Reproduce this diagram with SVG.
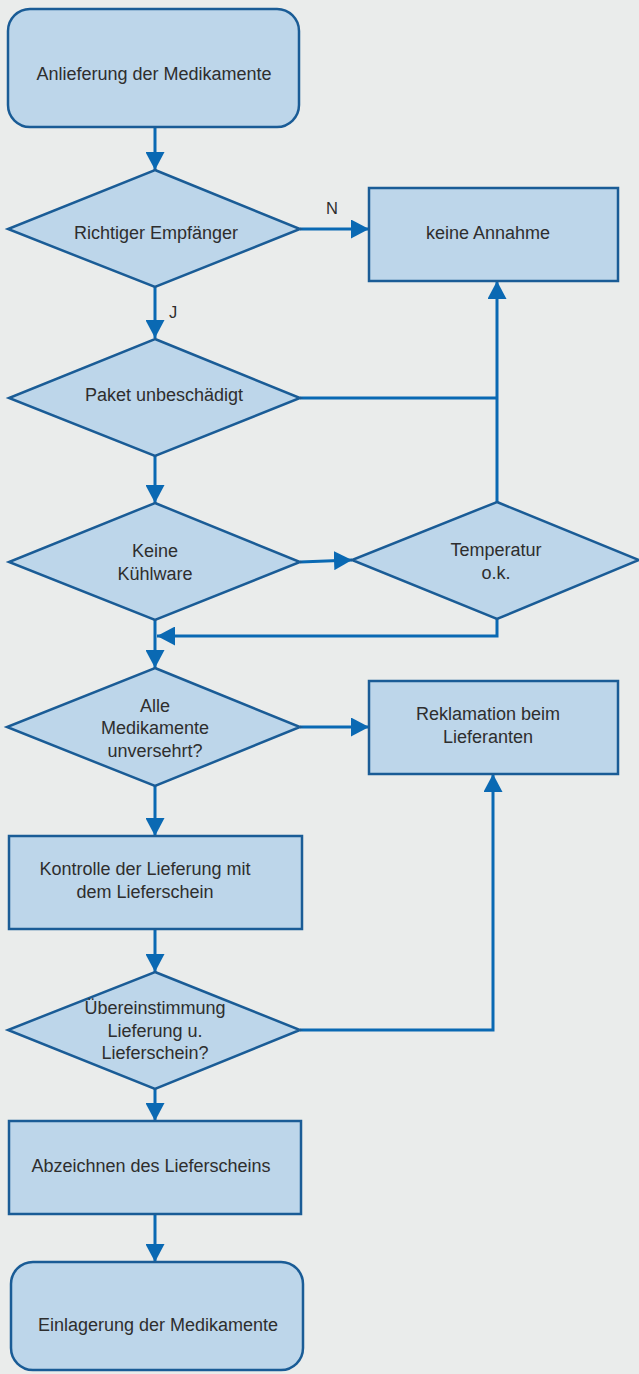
<svg xmlns="http://www.w3.org/2000/svg" width="639" height="1374" viewBox="0 0 639 1374">
<style>
.n{fill:#bdd6ea;stroke:#1a5c96;stroke-width:2.5}
.t{font-family:"Liberation Sans",Arial,sans-serif;font-size:18px;fill:#2e2e2e;text-anchor:middle}
.c{fill:none;stroke:#0a69b3;stroke-width:3}
.l{font-family:"Liberation Sans",Arial,sans-serif;font-size:16.5px;fill:#2e2e2e;text-anchor:middle}
</style>
<defs>
<marker id="ah" markerUnits="userSpaceOnUse" markerWidth="19" markerHeight="19" refX="18" refY="9.5" orient="auto">
<path d="M0,0 L18,9.5 L0,19 Z" fill="#0a69b3"/>
</marker>
</defs>
<rect width="639" height="1374" fill="#eaeceb"/>
<g id="connectors">
<path class="c" d="M155,127 V170" marker-end="url(#ah)"/>
<path class="c" d="M300,229 H369" marker-end="url(#ah)"/>
<path class="c" d="M155,287 V338" marker-end="url(#ah)"/>
<path class="c" d="M300,398 H497"/>
<path class="c" d="M497,502 V281" marker-end="url(#ah)"/>
<path class="c" d="M155,456 V503" marker-end="url(#ah)"/>
<path class="c" d="M300,562 L352,560" marker-end="url(#ah)"/>
<path class="c" d="M497,619 V636 H157" marker-end="url(#ah)"/>
<path class="c" d="M155,620 V668" marker-end="url(#ah)"/>
<path class="c" d="M300,727 H369" marker-end="url(#ah)"/>
<path class="c" d="M155,786 V836" marker-end="url(#ah)"/>
<path class="c" d="M155,929 V972" marker-end="url(#ah)"/>
<path class="c" d="M300,1030 H493 V774" marker-end="url(#ah)"/>
<path class="c" d="M155,1089 V1121" marker-end="url(#ah)"/>
<path class="c" d="M155,1214 V1262" marker-end="url(#ah)"/>
<text class="l" x="332" y="214">N</text>
<text class="l" x="173" y="318">J</text>
</g>
<g id="start">
<rect class="n" x="8" y="9" width="291" height="118" rx="22"/>
<text class="t" x="154" y="80">Anlieferung der Medikamente</text>
</g>
<g id="d1">
<polygon class="n" points="155,170 300,229 155,287 8,229"/>
<text class="t" x="156" y="239">Richtiger Empfänger</text>
</g>
<g id="keineAnnahme">
<rect class="n" x="369" y="188" width="249" height="93"/>
<text class="t" x="488" y="239">keine Annahme</text>
</g>
<g id="d2">
<polygon class="n" points="155,339 300,398 155,456 9,398"/>
<text class="t" x="164" y="401">Paket unbeschädigt</text>
</g>
<g id="d3">
<polygon class="n" points="155,503 300,562 155,620 9,562"/>
<text class="t" x="155" y="557">Keine</text>
<text class="t" x="155" y="580">Kühlware</text>
</g>
<g id="d4">
<polygon class="n" points="497,502 639,560 497,619 352,560"/>
<text class="t" x="496" y="556">Temperatur</text>
<text class="t" x="496" y="579">o.k.</text>
</g>
<g id="d5">
<polygon class="n" points="155,668 300,727 155,786 7,727"/>
<text class="t" x="155" y="712">Alle</text>
<text class="t" x="155" y="734">Medikamente</text>
<text class="t" x="155" y="757">unversehrt?</text>
</g>
<g id="reklamation">
<rect class="n" x="369" y="681" width="249" height="93"/>
<text class="t" x="488" y="720">Reklamation beim</text>
<text class="t" x="488" y="743">Lieferanten</text>
</g>
<g id="kontrolle">
<rect class="n" x="9" y="836" width="293" height="93"/>
<text class="t" x="145" y="875">Kontrolle der Lieferung mit</text>
<text class="t" x="145" y="898">dem Lieferschein</text>
</g>
<g id="d6">
<polygon class="n" points="155,972 300,1030 155,1089 8,1030"/>
<text class="t" x="155" y="1014">Übereinstimmung</text>
<text class="t" x="155" y="1037">Lieferung u.</text>
<text class="t" x="155" y="1059">Lieferschein?</text>
</g>
<g id="abzeichnen">
<rect class="n" x="9" y="1121" width="292" height="93"/>
<text class="t" x="151" y="1172">Abzeichnen des Lieferscheins</text>
</g>
<g id="end">
<rect class="n" x="11" y="1262" width="292" height="108" rx="22"/>
<text class="t" x="158" y="1331">Einlagerung der Medikamente</text>
</g>
</svg>
